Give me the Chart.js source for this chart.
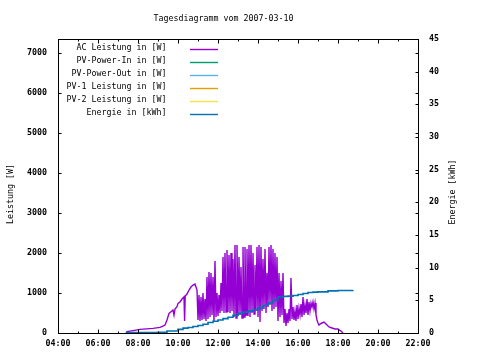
<!DOCTYPE html>
<html><head><meta charset="utf-8">
<script src="https://cdn.jsdelivr.net/npm/chart.js@4"></script>
<style>html,body{margin:0;padding:0;background:#fff}canvas{display:block}</style>
</head><body>
<canvas id="c" width="480" height="360"></canvas>
<script>
const titleText = 'Tagesdiagramm vom 2007-03-10';
const leftTitle = 'Leistung [W]';
const rightTitle = 'Energie [kWh]';
const seriesLabels = ['AC Leistung in [W]','PV-Power-In in [W]','PV-Power-Out in [W]','PV-1 Leistung in [W]','PV-2 Leistung in [W]','Energie in [kWh]'];
const seriesColors = ['#9400d3','#009e73','#56b4e9','#e69f00','#f0e442','#0072b2'];

const acTime = [
 7.40,7.45,7.75,8.10,8.75,9.10,9.27,9.35,9.45,9.55,9.65,9.75,9.80,9.85,9.95,10.00,10.10,10.20,10.30,10.33,10.36,10.45,10.55,10.65,10.75,10.85,10.90,10.95,
 11.00,11.05,11.10,11.15,11.20,11.25,11.30,11.35,11.40,11.45,11.50,11.55,11.60,11.65,11.70,11.75,11.80,11.85,11.90,11.95,
 12.00,12.05,12.10,12.15,12.20,12.25,12.30,12.35,12.40,12.45,12.50,12.55,12.60,12.65,12.70,12.75,12.80,12.85,12.90,12.95,
 13.00,13.05,13.10,13.15,13.20,13.25,13.30,13.35,13.40,13.45,13.50,13.55,13.60,13.65,13.70,13.75,13.80,13.85,13.90,13.95,
 14.00,14.05,14.10,14.15,14.20,14.25,14.30,14.35,14.40,14.45,14.50,14.55,14.60,14.65,14.70,14.75,14.80,14.85,14.90,14.95,
 15.00,15.05,15.10,15.15,15.20,15.25,15.30,15.35,15.40,15.45,15.50,15.55,15.60,15.65,15.70,15.75,15.80,15.85,15.90,15.95,
 16.00,16.05,16.10,16.15,16.20,16.25,16.30,16.35,16.40,16.45,16.50,16.55,16.60,16.65,16.70,16.75,16.80,16.85,16.90,16.95,
 17.00,17.05,17.10,17.20,17.30,17.35,17.45,17.55,17.70,17.85,18.00,18.05,18.15,18.25
];
const acWatts = [
 0,35,60,90,115,140,175,200,325,490,530,575,450,600,660,740,775,850,900,300,925,975,1075,1150,1200,1225,1150,1075,
 325,950,300,900,325,1000,350,850,300,1400,350,1525,400,1500,450,1400,275,1800,400,1000,
 425,950,500,1250,550,1900,500,2000,525,2075,525,1950,500,2000,550,1850,400,2200,375,2200,
 425,1900,450,1650,375,2150,400,2150,450,2100,425,2200,400,2200,500,2000,475,1700,550,2150,
 400,2200,275,2150,550,1850,600,2100,500,1500,650,2150,700,2200,550,2100,600,2000,650,1900,
 300,1500,400,1300,450,1500,250,600,175,500,250,600,300,1375,350,650,325,550,300,700,
 350,625,450,725,400,900,450,700,500,850,450,775,550,750,650,775,600,750,450,325,
 250,200,225,250,275,250,200,150,125,100,100,75,50,0
];

const energyTime = [7.40,9.00,9.45,10.00,10.25,10.50,10.75,11.00,11.25,11.50,11.75,12.00,12.25,12.50,12.75,13.00,13.25,13.50,13.75,14.00,14.25,14.50,14.75,15.00,15.25,15.50,15.75,16.00,16.25,16.50,16.75,17.00,17.50,18.00,18.75];
const energyKWh  = [0.05,0.1,0.3,0.55,0.75,0.85,1.0,1.15,1.35,1.6,1.8,2.0,2.2,2.4,2.7,3.0,3.2,3.35,3.55,3.85,4.2,4.6,5.05,5.5,5.6,5.65,5.75,5.9,6.05,6.2,6.25,6.3,6.45,6.5,6.55];

const xMin = 4, xMax = 22;
const xTicks = [4,6,8,10,12,14,16,18,20,22];
const yMax = 7350;
const yTicks = [0,1000,2000,3000,4000,5000,6000,7000];
const y2Max = 45;
const y2Ticks = [0,5,10,15,20,25,30,35,40,45];

const FONT = {family: '"DejaVu Sans Mono", monospace', size: 8.3};
const TICKFONT = {family: '"DejaVu Sans Mono", monospace', size: 8.3, weight: 'bold'};
const fontStr = '8.3px "DejaVu Sans Mono", monospace';

function pts(xs, ys){ return xs.map((x,i)=>({x:x, y:ys[i]})); }
function setTicks(list){ return s => { s.ticks = list.map(v=>({value:v})); }; }

const datasets = seriesLabels.map((lab,i)=>({
  label: lab,
  data: [],
  borderColor: seriesColors[i],
  borderWidth: 1.4,
  pointRadius: 0,
  tension: 0,
  yAxisID: 'y'
}));
datasets[0].data = pts(acTime, acWatts);
datasets[5].data = pts(energyTime, energyKWh);
datasets[5].yAxisID = 'y2';
datasets[5].stepped = 'before';
datasets[5].borderWidth = 1.6;
datasets[5].order = -1;

const deco = {
  id: 'deco',
  afterDraw(chart){
    const {ctx, chartArea:a, scales} = chart;
    ctx.save();
    ctx.strokeStyle = '#000'; ctx.lineWidth = 1;
    const L = Math.round(a.left)+0.5, R = Math.round(a.right)+0.5, T = Math.round(a.top)+0.5, B = Math.round(a.bottom)+0.5;
    ctx.strokeRect(L, T, R-L, B-T);
    ctx.beginPath();
    for (let h = xMin; h <= xMax; h++){
      const x = Math.round(scales.x.getPixelForValue(h))+0.5;
      const len = (h % 2 === 0) ? 4 : 2;
      ctx.moveTo(x, B); ctx.lineTo(x, B-len);
      ctx.moveTo(x, T); ctx.lineTo(x, T+len);
    }
    scales.y.ticks.forEach(t=>{
      const y = Math.round(scales.y.getPixelForValue(t.value))+0.5;
      ctx.moveTo(L, y); ctx.lineTo(L+3, y);
      ctx.moveTo(R, y); ctx.lineTo(R-3, y);
    });
    scales.y2.ticks.forEach(t=>{
      const y = Math.round(scales.y2.getPixelForValue(t.value))+0.5;
      ctx.moveTo(R, y); ctx.lineTo(R-3, y);
    });
    ctx.stroke();

    ctx.fillStyle = '#000';
    ctx.font = fontStr;
    ctx.textBaseline = 'middle';
    ctx.textAlign = 'center';
    ctx.fillText(titleText, 223.5, 18.5);

    chart.data.datasets.forEach((ds,i)=>{
      ctx.textAlign = 'right';
      ctx.fillStyle = '#000';
      ctx.fillText(ds.label, 166.5, 47.5 + 13*i);
      ctx.strokeStyle = ds.borderColor;
      ctx.lineWidth = 1.4;
      ctx.beginPath();
      const ly = 49.5 + 13*i;
      ctx.moveTo(190, ly); ctx.lineTo(218, ly);
      ctx.stroke();
    });

    ctx.fillStyle = '#000';
    ctx.textAlign = 'center';
    ctx.save(); ctx.translate(10.5, 194); ctx.rotate(-Math.PI/2); ctx.fillText(leftTitle, 0, 0); ctx.restore();
    ctx.save(); ctx.translate(453, 192); ctx.rotate(-Math.PI/2); ctx.fillText(rightTitle, 0, 0); ctx.restore();
    ctx.restore();
  }
};

new Chart(document.getElementById('c'), {
  type: 'line',
  data: { datasets },
  options: {
    responsive: false,
    animation: false,
    devicePixelRatio: 1,
    layout: { padding: { top: 39, left: 0, right: 0, bottom: 0 } },
    plugins: { legend: {display:false}, title:{display:false}, tooltip:{enabled:false} },
    scales: {
      x: {
        type: 'linear', min: xMin, max: xMax,
        afterFit(s){ s.height = 27; },
        afterBuildTicks: setTicks(xTicks),
        grid: { display: true, drawOnChartArea: false, drawTicks: false },
        border: { display: false },
        ticks: { padding: 6, color: '#000', font: TICKFONT, maxRotation: 0, autoSkip: false,
          callback: v => String(v).padStart(2,'0') + ':00' }
      },
      y: {
        position: 'left', min: 0, max: yMax,
        afterFit(s){ s.width = 58; },
        afterBuildTicks: setTicks(yTicks),
        grid: { display: true, drawOnChartArea: false, drawTicks: false },
        border: { display: false },
        ticks: { padding: 11, color: '#000', font: TICKFONT, autoSkip: false, callback: v => String(v) }
      },
      y2: {
        position: 'right', min: 0, max: y2Max,
        afterFit(s){ s.width = 62; },
        afterBuildTicks: setTicks(y2Ticks),
        grid: { display: true, drawOnChartArea: false, drawTicks: false },
        border: { display: false },
        ticks: { padding: 11, color: '#000', font: TICKFONT, autoSkip: false, callback: v => String(v) }
      }
    }
  },
  plugins: [deco]
});
</script>
</body></html>
